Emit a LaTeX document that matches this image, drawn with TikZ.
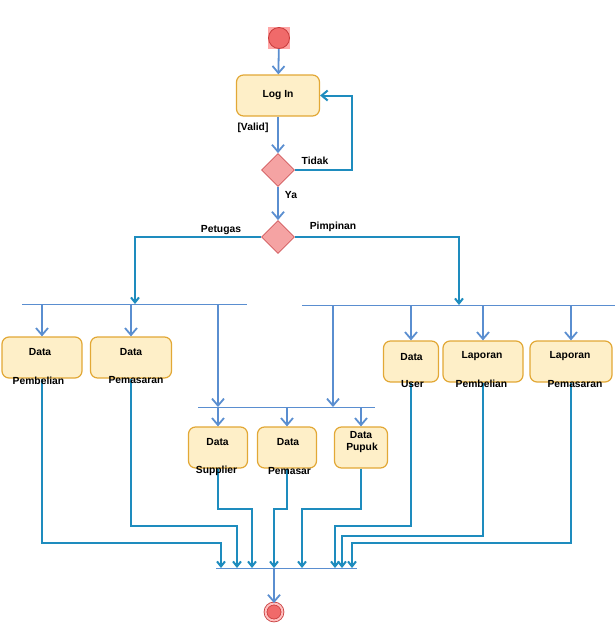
\documentclass[tikz,border=0pt]{standalone}
\usepackage{fontspec}
\setmainfont{Liberation Sans}
\usetikzlibrary{arrows.meta,shapes.geometric}
\definecolor{boxfill}{HTML}{FEEFC8}
\definecolor{boxdraw}{HTML}{E2A836}
\definecolor{flowc}{HTML}{1E8CBE}
\definecolor{arrc}{HTML}{5A8ED0}
\definecolor{diafill}{HTML}{F5A3A3}
\definecolor{diadraw}{HTML}{D0585C}
\definecolor{redfill}{HTML}{F06A6A}
\definecolor{reddraw}{HTML}{C83C3C}
\tikzset{
  box/.style={draw=boxdraw, fill=boxfill, line width=1.2pt, rounded corners=7pt, inner sep=0pt, minimum height=41pt, font=\fontsize{10.3}{12}\selectfont\bfseries},
  lbl/.style={font=\fontsize{10.3}{12}\selectfont\bfseries, inner sep=0pt},
  dec/.style={diamond, draw=diadraw, fill=diafill, minimum width=33pt, minimum height=33pt, inner sep=0pt, line width=0.8pt},
  arr/.style={draw=arrc, line width=1.8pt, -{Straight Barb[length=7pt,width=12pt]}},
  flow/.style={draw=flowc, line width=2pt},
  flowarr/.style={flow, -{Straight Barb[length=5pt,width=8pt]}},
  bar/.style={draw=arrc, line width=0.8pt},
}
\begin{document}
\begin{tikzpicture}[x=1pt,y=-1pt]
\useasboundingbox (0,0) rectangle (615,625);
% start
\fill[red!35] (268,27) rectangle (290,49);
\node[circle, draw=reddraw, fill=redfill, minimum size=21pt, inner sep=0pt, line width=0.8pt] (start) at (279,38) {};
% boxes
\node[box, minimum width=83pt] (login) at (278,95.5) {Log In};
\node[box, minimum width=80pt] (pemb) at (42,357.5) {};
\node[box, minimum width=81pt] (pemas) at (131,357.5) {};
\node[box, minimum width=55pt] (user) at (411,361.5) {};
\node[box, minimum width=80pt] (lpemb) at (483,361.5) {};
\node[box, minimum width=82pt] (lpemas) at (571,361.5) {};
\node[box, minimum width=59pt] (supp) at (218,447.5) {};
\node[box, minimum width=59pt] (pmsr) at (287,447.5) {};
\node[box, minimum width=53pt] (pupuk) at (361,447.5) {};
% decisions
\node[dec] (dec1) at (278,170) {};
\node[dec] (dec2) at (278,237) {};
% end
\node[circle, draw=reddraw, fill=redfill, double=red!25, double distance=2pt, minimum size=17pt, inner sep=0pt, line width=0.8pt] (end) at (274,612) {};
% coordinates
\coordinate (b1l) at (22,304);
\coordinate (b1r) at (247,304);
\coordinate (b1in) at (135,304);
\coordinate (b2l) at (302,305);
\coordinate (b2r) at (615,305);
\coordinate (b2in) at (459,305);
\coordinate (b3l) at (198,407);
\coordinate (b3r) at (375,407);
\coordinate (b3a) at (218,407);
\coordinate (b3b) at (333,407);
\coordinate (bel) at (216,568);
\coordinate (ber) at (357,568);
\coordinate (e1) at (221,568);
\coordinate (e2) at (237,568);
\coordinate (e3) at (252,568);
\coordinate (e4) at (274,568);
\coordinate (e5) at (302,568);
\coordinate (e6) at (335,568);
\coordinate (e7) at (342,568);
\coordinate (e8) at (352,568);
\coordinate (loopc) at (352,170);
% bars
\draw[bar] (b1l) -- (b1r);
\draw[bar] (b2l) -- (b2r);
\draw[bar] (b3l) -- (b3r);
\draw[bar] (bel) -- (ber);
% top flow
\draw[arr] (start) -- (login);
\draw[arr] (login) -- (dec1);
\draw[flow, -{Straight Barb[length=6pt,width=10pt]}] (dec1.east) -- (loopc) |- (login.east);
\draw[arr] (dec1) -- (dec2);
\draw[flowarr] (dec2.west) -| (b1in);
\draw[flowarr] (dec2.east) -| (b2in);
% fork arrows
\draw[arr] (pemb.north |- b1l) -- (pemb.north);
\draw[arr] (pemas.north |- b1l) -- (pemas.north);
\draw[arr] (b3a |- b1l) -- (b3a);
\draw[arr] (b3b |- b2l) -- (b3b);
\draw[arr] (user.north |- b2l) -- (user.north);
\draw[arr] (lpemb.north |- b2l) -- (lpemb.north);
\draw[arr] (lpemas.north |- b2l) -- (lpemas.north);
\draw[arr] (supp.north |- b3l) -- (supp.north);
\draw[arr] (pmsr.north |- b3l) -- (pmsr.north);
\draw[arr] (pupuk.north |- b3l) -- (pupuk.north);
% join flows
\draw[flowarr] (pemb.south) -- ++(0,164) -| (e1);
\draw[flowarr] (pemas.south) -- ++(0,147) -| (e2);
\draw[flowarr] (supp.south) -- ++(0,40) -| (e3);
\draw[flowarr] (pmsr.south) -- ++(0,40) -| (e4);
\draw[flowarr] (pupuk.south) -- ++(0,40) -| (e5);
\draw[flowarr] (user.south) -- ++(0,143) -| (e6);
\draw[flowarr] (lpemb.south) -- ++(0,153) -| (e7);
\draw[flowarr] (lpemas.south) -- ++(0,160) -| (e8);
\draw[arr] (e4) -- (end.north);
% labels
\node[lbl] (lvalid) at (253,128) {[Valid]};
\node[lbl] (ltidak) at (315,161) {Tidak};
\node[lbl] (lya) at (291,195) {Ya};
\node[lbl] (lpet) at (221,230) {Petugas};
\node[lbl] (lpim) at (333,227) {Pimpinan};
\node[lbl] at (40,352.5) {Data};
\node[lbl] at (38.5,380.5) {Pembelian};
\node[lbl] at (131,352.5) {Data};
\node[lbl] at (136,380.5) {Pemasaran};
\node[lbl] at (411.5,356.5) {Data};
\node[lbl] at (412.5,384) {User};
\node[lbl] at (482,356.5) {Laporan};
\node[lbl] at (481.5,384) {Pembelian};
\node[lbl] at (570,356.5) {Laporan};
\node[lbl] at (575,384) {Pemasaran};
\node[lbl] at (217.5,442.5) {Data};
\node[lbl] at (216.5,470.5) {Supplier};
\node[lbl] at (288,442.5) {Data};
\node[lbl] at (289.5,470.5) {Pemasar};
\node[lbl] at (361,435) {Data};
\node[lbl] at (362,448) {Pupuk};
\end{tikzpicture}
\end{document}
